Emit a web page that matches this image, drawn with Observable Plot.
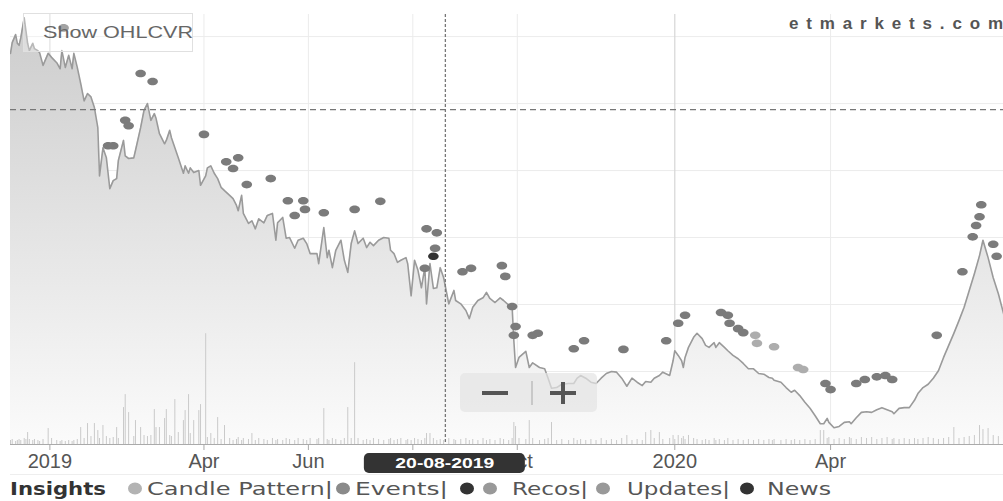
<!DOCTYPE html>
<html><head><meta charset="utf-8">
<script src="https://cdn.jsdelivr.net/npm/d3@7"></script>
<script src="https://cdn.jsdelivr.net/npm/@observablehq/plot@0.6"></script>
<style>
body{margin:0;background:#fff;}
#wrap{position:relative;width:1003px;height:501px;overflow:hidden;background:#fff;}
#wrap svg{display:block;}
</style></head><body><div id="wrap"></div>
<script>
// ---------- price series (close) ----------
const dates = [
"2018-12-09","2018-12-10","2018-12-12","2018-12-13","2018-12-14","2018-12-15","2018-12-17","2018-12-18","2018-12-19","2018-12-20","2018-12-22","2018-12-23","2018-12-25","2018-12-26","2018-12-28","2018-12-31",
"2019-01-02","2019-01-05","2019-01-07","2019-01-08","2019-01-10","2019-01-12","2019-01-14","2019-01-15","2019-01-17","2019-01-19","2019-01-21","2019-01-23","2019-01-25","2019-01-27","2019-01-29","2019-01-30",
"2019-02-01","2019-02-03","2019-02-05","2019-02-07","2019-02-09","2019-02-10","2019-02-13","2019-02-14","2019-02-16","2019-02-19","2019-02-20","2019-02-23","2019-02-25","2019-02-27",
"2019-03-01","2019-03-03","2019-03-04","2019-03-06","2019-03-09","2019-03-10","2019-03-12","2019-03-13","2019-03-15","2019-03-17","2019-03-20","2019-03-21","2019-03-23","2019-03-24","2019-03-26","2019-03-29","2019-03-30",
"2019-04-02","2019-04-03","2019-04-05","2019-04-07","2019-04-09","2019-04-11","2019-04-13","2019-04-16","2019-04-18","2019-04-20","2019-04-21","2019-04-23","2019-04-24","2019-04-27","2019-04-29",
"2019-05-01","2019-05-03","2019-05-06","2019-05-08","2019-05-11","2019-05-13","2019-05-14","2019-05-17","2019-05-19","2019-05-21","2019-05-24","2019-05-26","2019-05-29","2019-05-31",
"2019-06-02","2019-06-06","2019-06-07","2019-06-10","2019-06-12","2019-06-13","2019-06-15","2019-06-17","2019-06-20","2019-06-22","2019-06-24","2019-06-26","2019-06-28","2019-06-30",
"2019-07-03","2019-07-05","2019-07-07","2019-07-09","2019-07-12","2019-07-15","2019-07-18","2019-07-19","2019-07-21","2019-07-23","2019-07-25","2019-07-28","2019-07-29","2019-07-31",
"2019-08-02","2019-08-04","2019-08-06","2019-08-08","2019-08-09","2019-08-11","2019-08-13","2019-08-15","2019-08-17","2019-08-19","2019-08-22","2019-08-25","2019-08-26","2019-08-29",
"2019-09-01","2019-09-03","2019-09-05","2019-09-08","2019-09-11","2019-09-13","2019-09-15","2019-09-18","2019-09-21","2019-09-23","2019-09-26","2019-09-28","2019-09-29","2019-09-30",
"2019-10-02","2019-10-06","2019-10-08","2019-10-10","2019-10-14","2019-10-17","2019-10-19","2019-10-21","2019-10-24","2019-10-27","2019-10-31",
"2019-11-03","2019-11-05","2019-11-07","2019-11-10","2019-11-13","2019-11-16","2019-11-19","2019-11-22","2019-11-25","2019-11-28",
"2019-12-01","2019-12-04","2019-12-07","2019-12-10","2019-12-13","2019-12-15","2019-12-18","2019-12-20","2019-12-23","2019-12-25","2019-12-29","2019-12-31",
"2020-01-01","2020-01-03","2020-01-05","2020-01-06","2020-01-07","2020-01-09","2020-01-12","2020-01-14","2020-01-17","2020-01-19","2020-01-21","2020-01-24","2020-01-25","2020-01-27","2020-01-30",
"2020-02-01","2020-02-04","2020-02-07","2020-02-10","2020-02-13","2020-02-16","2020-02-19","2020-02-22","2020-02-25","2020-02-27","2020-02-28",
"2020-03-03","2020-03-06","2020-03-09","2020-03-11","2020-03-14","2020-03-17","2020-03-20","2020-03-23","2020-03-26","2020-03-28","2020-03-30","2020-03-31",
"2020-04-03","2020-04-06","2020-04-09","2020-04-12","2020-04-13","2020-04-16","2020-04-19","2020-04-22","2020-04-25","2020-04-28",
"2020-05-01","2020-05-04","2020-05-07","2020-05-08","2020-05-11","2020-05-14","2020-05-17","2020-05-20","2020-05-22","2020-05-25","2020-05-28","2020-05-31",
"2020-06-03","2020-06-06","2020-06-09","2020-06-12","2020-06-15","2020-06-18","2020-06-21","2020-06-24","2020-06-27","2020-06-29",
"2020-07-02","2020-07-05","2020-07-08","2020-07-11","2020-07-14"
];
const close = [
575,591,603,590,587,598,628,609,590,579,590,582,579,576,557,575,
569,561,552,579,554,572,552,575,554,530,504,515,510,494,464,392,
434,419,373,385,388,415,445,422,418,419,430,464,490,500,
475,485,478,455,440,445,460,449,434,419,396,407,396,404,397,400,378,
392,404,407,396,388,375,370,363,358,348,340,363,336,321,325,
313,328,322,333,336,296,322,330,299,300,284,296,299,291,
276,276,261,315,270,281,255,281,296,266,248,291,310,291,
299,285,293,288,296,300,299,281,276,263,266,270,261,213,
266,251,225,255,201,261,224,225,255,240,201,221,206,201,
191,179,196,206,210,218,209,203,210,206,199,196,146,106,
121,130,106,113,106,104,90,75,76,81,82,
82,90,94,90,84,82,90,97,100,99,
90,78,90,84,79,85,84,90,94,99,94,116,
131,124,116,106,121,136,151,157,149,139,136,143,136,143,136,
131,124,119,112,104,104,97,96,91,90,87,
84,76,69,72,64,54,45,34,22,22,30,24,
16,18,24,25,22,31,39,40,39,43,
46,43,40,37,45,46,46,57,67,76,81,90,
101,121,139,157,176,196,221,246,273,296,
270,240,216,187,157
];
const volume = [
40,50,30,40,50,40,60,50,120,50,40,50,40,30,50,160,
60,40,30,40,30,40,30,40,50,170,60,210,80,210,140,60,
190,80,60,70,170,60,370,500,320,80,240,170,90,80,
90,350,170,170,260,350,90,80,450,120,240,340,500,110,240,340,400,
1110,70,110,60,270,50,190,60,40,50,70,40,60,50,110,
40,60,50,40,60,40,50,40,60,50,40,60,50,40,
60,50,60,360,50,40,60,50,40,60,370,60,820,60,
40,50,40,60,50,40,50,60,40,50,60,40,50,40,
60,50,40,60,110,110,60,40,50,40,60,50,40,50,
60,40,50,40,60,40,50,40,60,50,40,60,220,180,
60,50,240,60,40,50,60,220,40,50,40,
60,40,50,40,50,40,60,40,50,40,
60,90,40,50,40,120,140,60,120,50,60,90,
50,90,60,80,50,90,60,50,40,50,40,60,40,50,40,
60,40,50,40,50,40,50,40,50,40,50,
40,50,40,50,40,50,40,50,140,140,60,70,
50,60,50,70,60,50,70,60,70,50,
60,70,50,60,50,60,50,60,50,60,70,60,
50,60,70,170,60,70,80,90,190,150,
160,90,80,70,60
];

// ---------- insight markers ----------
const insightDates = ["2019-01-09","2019-02-23","2019-03-02","2019-02-14","2019-02-16","2019-02-04","2019-02-07","2019-04-01","2019-04-14","2019-04-21","2019-04-18","2019-04-26","2019-05-10","2019-05-20","2019-05-29","2019-05-24","2019-05-30","2019-06-10","2019-06-28","2019-07-13","2019-08-09","2019-08-15","2019-08-14","2019-08-13","2019-08-08","2019-08-30","2019-09-04","2019-09-22","2019-09-24","2019-09-28","2019-09-30","2019-09-29","2019-10-10","2019-10-13","2019-11-03","2019-11-09","2019-12-02","2019-12-27","2020-01-03","2020-01-07","2020-01-28","2020-02-01","2020-02-02","2020-02-07","2020-02-10","2020-02-17","2020-02-18","2020-02-28","2020-03-13","2020-03-16","2020-03-29","2020-04-01","2020-04-16","2020-04-21","2020-04-28","2020-05-03","2020-05-07","2020-06-02","2020-06-17","2020-06-23","2020-06-25","2020-06-27","2020-06-28","2020-07-05","2020-07-07"];
const insightPrices = [613,545,533,475,467,437,437,454,413,419,403,379,388,355,355,333,342,337,342,354,313,307,284,272,254,249,254,258,242,197,167,154,154,157,134,146,133,146,172,184,188,184,172,164,158,154,142,137,106,103,82,73,82,88,92,94,88,154,249,301,318,331,349,290,272];
const insightTypes = ["Event","Event","Event","Event","Event","Event","Event","Event","Event","Event",
"Event","Event","Event","Event","Event","Event","Event","Event","Event","Event",
"Event","Event","Event","News","Event","Event","Event","Event","Event","Event",
"Event","Event","Event","Event","Event","Event","Event","Event","Event","Event",
"Event","Event","Event","Event","Event","Candle","Candle","Candle","Candle","Candle",
"Event","Event","Event","Event","Event","Event","Event","Event","Event","Event",
"Event","Event","Event","Event","Event"];

// ---------- axis / reference values ----------
const tickDates = ["2019-01-01","2019-04-01","2019-06-01","2019-08-01","2019-10-01","2020-01-01","2020-04-01"];
const tickLabels = ["2019","Apr","Jun","","Oct","2020","Apr"];   // Aug label is hidden behind the crosshair date label
const yearTickDates = ["2019-01-01","2020-01-01"];
const priceGrid = [0,100,200,300,400,500,600];
const refPrice = 491;
const crossDate = "2019-08-20";
const crossLabel = "20-08-2019";
const legendLabels = ["Candle Pattern|","Events|","Recos|","Updates|","News"];

// ---------- build ----------
const Y_MIN = -9;
const VOL_K = 0.149;
const table = dates.map((d, i) => ({date: new Date(d), close: close[i], vol: volume[i]}));
const typeColor = {Event: "#7b7b7b", Candle: "#adadad", News: "#333333"};
const insights = insightDates.map((d, i) => ({date: new Date(d), price: insightPrices[i], color: typeColor[insightTypes[i]]}));
const labelOf = new Map(tickDates.map((d, i) => [+new Date(d), tickLabels[i]]));
const yearSet = new Set(yearTickDates);

const ellipse = {draw(ctx) {
  const rx = 5.3, ry = 3.8, k = 0.5523, kx = rx * k, ky = ry * k;
  ctx.moveTo(rx, 0);
  ctx.bezierCurveTo(rx, ky, kx, ry, 0, ry);
  ctx.bezierCurveTo(-kx, ry, -rx, ky, -rx, 0);
  ctx.bezierCurveTo(-rx, -ky, -kx, -ry, 0, -ry);
  ctx.bezierCurveTo(kx, -ry, rx, -ky, rx, 0);
  ctx.closePath();
}};

const plot = Plot.plot({
  width: 1003, height: 476,
  marginLeft: 10, marginRight: 0, marginTop: 14, marginBottom: 32,
  x: {type: "utc", domain: [new Date("2018-12-09"), new Date("2020-07-11")]},
  y: {domain: [Y_MIN, 633], axis: null},
  color: {type: "identity"},
  style: {fontFamily: "'Liberation Sans', Arial, sans-serif", background: "#fff", overflow: "visible"},
  marks: [
    Plot.gridY(priceGrid, {stroke: "#ececec", strokeOpacity: 1}),
    Plot.gridX(tickDates.filter(d => !yearSet.has(d)).map(d => new Date(d)), {stroke: "#ebebeb", strokeOpacity: 1}),
    Plot.gridX(yearTickDates.map(d => new Date(d)), {stroke: "#d6d6d6", strokeOpacity: 1, strokeWidth: 1.2}),
    Plot.areaY(table, {x: "date", y1: () => Y_MIN, y2: "close", fill: "url(#areaGrad)", clip: true}),
    Plot.ruleX(table, {x: "date", y1: () => Y_MIN, y2: d => Y_MIN + d.vol * VOL_K, stroke: "#cacaca", strokeWidth: 1, clip: true}),
    Plot.lineY(table, {x: "date", y: "close", stroke: "#9a9a9a", strokeWidth: 1.6, clip: true}),
    Plot.ruleY([refPrice], {stroke: "#777", strokeDasharray: "6,4", strokeWidth: 1.2}),
    Plot.ruleX([new Date(crossDate)], {stroke: "#777", strokeDasharray: "3,2", strokeWidth: 1.3}),
    Plot.dot(insights, {x: "date", y: "price", fill: "color", symbol: ellipse, r: 5, clip: true}),
    Plot.ruleY([Y_MIN], {stroke: "#aaaaaa"}),
    Plot.axisX(tickDates.map(d => new Date(d)), {tickFormat: d => labelOf.get(+d), fontSize: 20, fill: "#555", stroke: "#aaa", tickSize: 6, tickPadding: 3})
  ]
});

const svg = d3.select(plot);
const defs = svg.insert("defs", ":first-child");
const grad = defs.append("linearGradient").attr("id", "areaGrad").attr("gradientUnits", "userSpaceOnUse")
  .attr("x1", 0).attr("y1", 14).attr("x2", 0).attr("y2", 444);
grad.append("stop").attr("offset", 0).attr("stop-color", "#cccccc");
grad.append("stop").attr("offset", 1).attr("stop-color", "#fbfbfb");

const ui = svg.append("g").attr("text-anchor", "start");
// bottom separator
ui.append("line").attr("x1", 10).attr("x2", 1003).attr("y1", 474.5).attr("y2", 474.5).attr("stroke", "#eeeeee");
// Show OHLCVR button
ui.append("rect").attr("x", 23.5).attr("y", 13.5).attr("width", 169).attr("height", 38)
  .attr("fill", "#fff").attr("fill-opacity", 0.3).attr("stroke", "#e0e0e0");
ui.append("text").attr("x", 43).attr("y", 38).attr("font-size", 17).attr("fill", "#666").attr("text-anchor", "start")
  .attr("textLength", 150).attr("lengthAdjust", "spacingAndGlyphs").text("Show OHLCVR");
// brand
ui.append("text").attr("x", 789).attr("y", 29).attr("font-size", 17).attr("font-weight", "bold").attr("fill", "#555").attr("text-anchor", "start")
  .attr("textLength", 214).attr("lengthAdjust", "spacing").text("etmarkets.com");
// zoom widget
ui.append("rect").attr("x", 460).attr("y", 373).attr("width", 137).attr("height", 39).attr("rx", 5)
  .attr("fill", "#e4e4e4").attr("fill-opacity", 0.7);
ui.append("rect").attr("x", 482).attr("y", 391).attr("width", 26).attr("height", 4).attr("fill", "#555");
ui.append("line").attr("x1", 532).attr("x2", 532).attr("y1", 381).attr("y2", 405).attr("stroke", "#bdbdbd").attr("stroke-width", 1.5);
ui.append("rect").attr("x", 550).attr("y", 391).attr("width", 26).attr("height", 4).attr("fill", "#555");
ui.append("rect").attr("x", 561).attr("y", 382).attr("width", 4).attr("height", 22).attr("fill", "#555");
// crosshair date label
const cx = plot.scale("x").apply(new Date(crossDate));
ui.append("rect").attr("x", cx - 81).attr("y", 453).attr("width", 161).attr("height", 20).attr("rx", 5).attr("fill", "#333");
ui.append("text").attr("x", cx).attr("y", 468).attr("text-anchor", "middle").attr("font-size", 14).attr("font-weight", "bold")
  .attr("fill", "#fff").attr("textLength", 99).attr("lengthAdjust", "spacingAndGlyphs").text(crossLabel);

document.getElementById("wrap").appendChild(plot);

// ---------- legend (below the chart) ----------
const leg = d3.select("#wrap").append("svg").attr("width", 1003).attr("height", 25)
  .style("font-family", "'DejaVu Sans', sans-serif");
leg.append("text").attr("x", 10).attr("y", 19).attr("font-size", 18).attr("font-weight", "bold").attr("fill", "#333")
  .attr("textLength", 96).attr("lengthAdjust", "spacingAndGlyphs").text("Insights");
const legItems = [
  {dots: [[135, "#b3b3b3"]], x: 147, len: 186},
  {dots: [[343, "#8a8a8a"]], x: 355, len: 93},
  {dots: [[467, "#333"], [490, "#999"]], x: 512, len: 76},
  {dots: [[603, "#999"]], x: 627, len: 103},
  {dots: [[747, "#333"]], x: 767, len: 64}
];
legItems.forEach((it, i) => {
  it.dots.forEach(([x, c]) => leg.append("ellipse").attr("cx", x).attr("cy", 12.5).attr("rx", 7).attr("ry", 6).attr("fill", c));
  leg.append("text").attr("x", it.x).attr("y", 19).attr("font-size", 18).attr("fill", "#555")
    .attr("textLength", it.len).attr("lengthAdjust", "spacingAndGlyphs").text(legendLabels[i]);
});
</script>
</body></html>
